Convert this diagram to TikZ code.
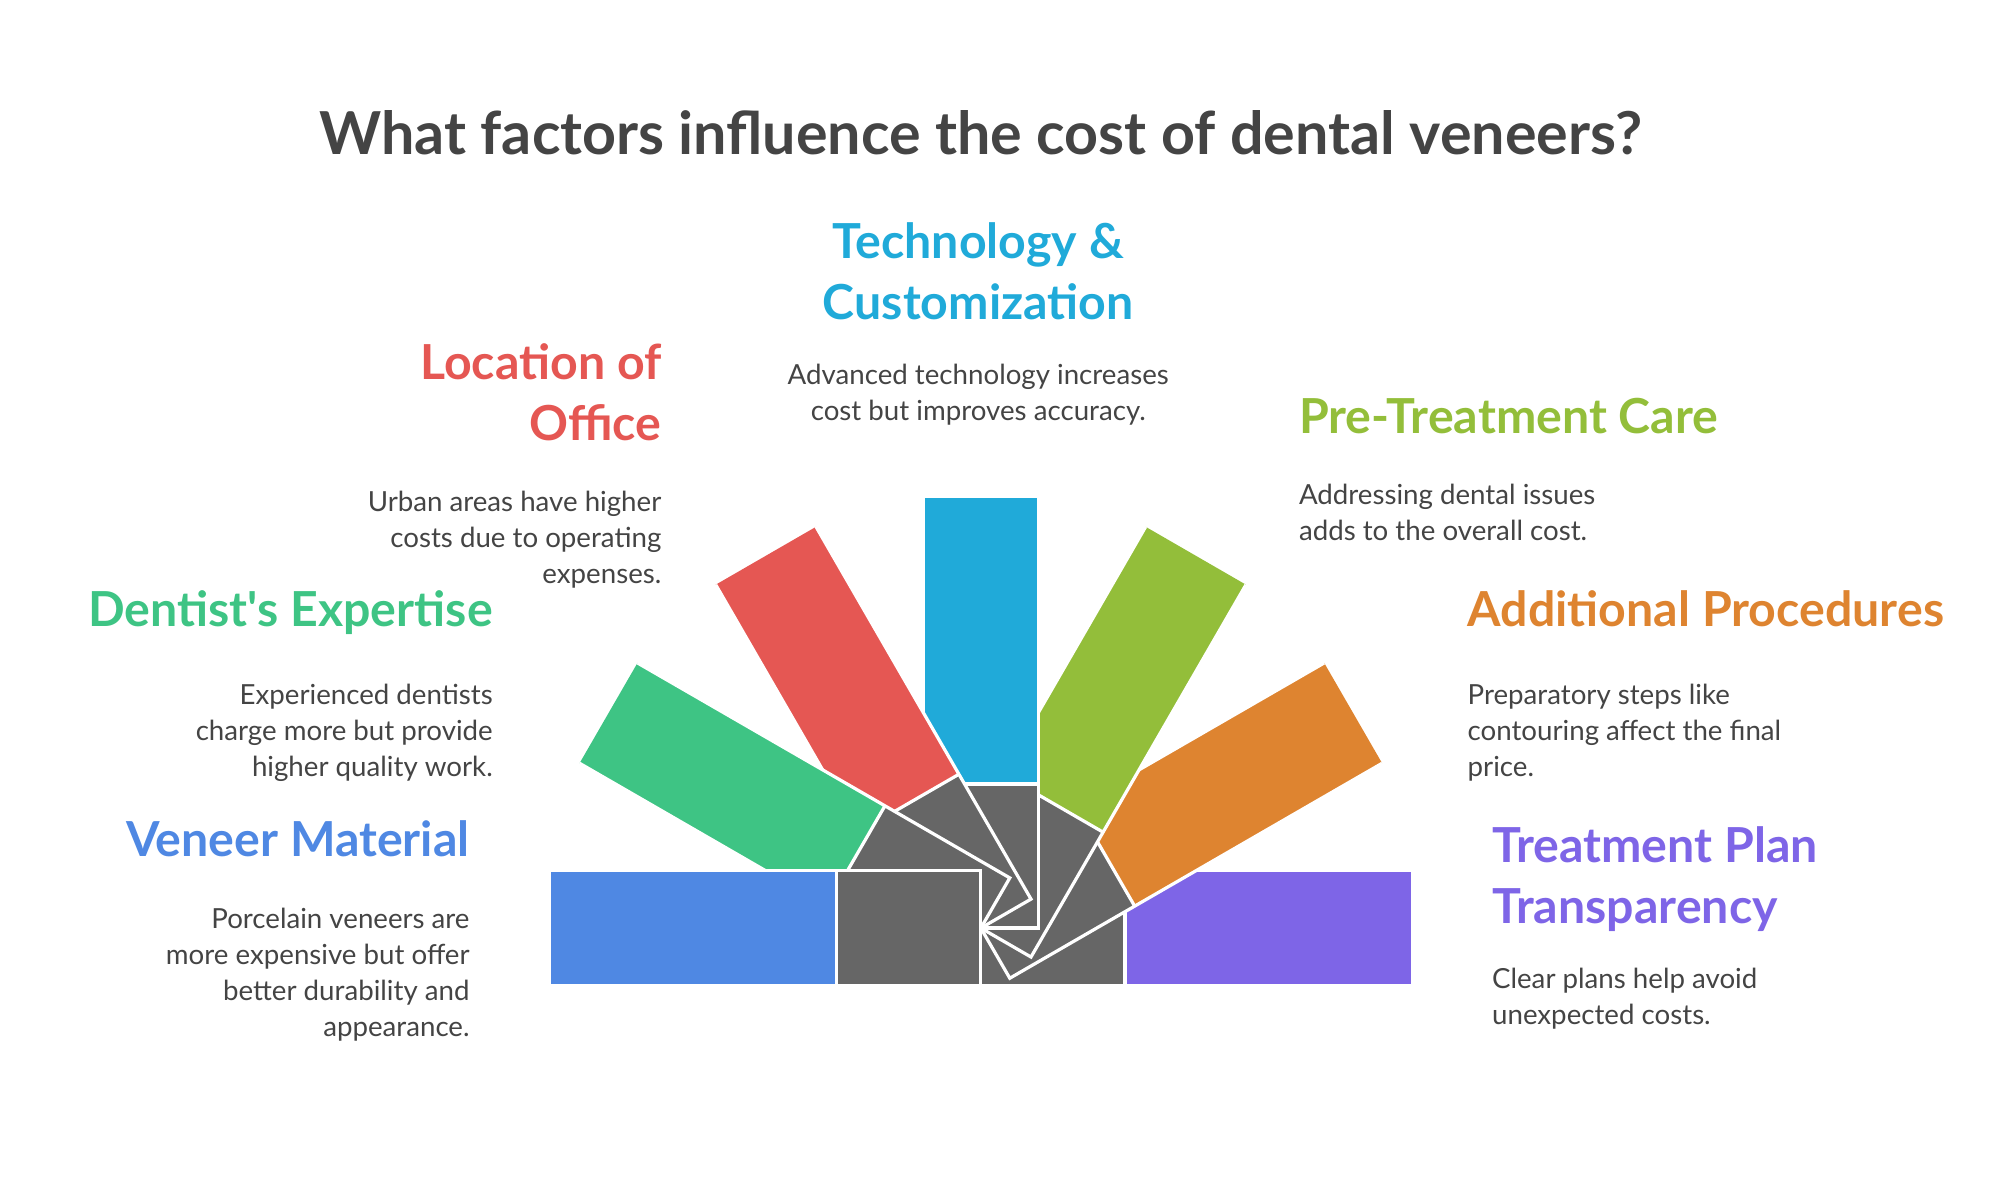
\documentclass[tikz,border=0pt]{standalone}
\usepackage{fontspec}
\setmainfont{Lato}
\usetikzlibrary{positioning}
\definecolor{vblue}{HTML}{4F88E3}
\definecolor{vgreen}{HTML}{3EC484}
\definecolor{vred}{HTML}{E55753}
\definecolor{vcyan}{HTML}{20AAD9}
\definecolor{volive}{HTML}{93BE3A}
\definecolor{vorange}{HTML}{DE8430}
\definecolor{vpurple}{HTML}{7E65E7}
\definecolor{vgray}{HTML}{666666}
\definecolor{vtext}{HTML}{444444}
\begin{document}
\begin{tikzpicture}[x=1pt,y=1pt,
  head/.style={font=\fontsize{37.5}{47}\selectfont\bfseries,inner sep=0pt},
  body/.style={font=\fontsize{21.5}{28}\selectfont,text=vtext,inner sep=0pt}]
  \useasboundingbox (0,0) rectangle (1560,-934);

  % petals, drawn from right to left
  \foreach \a/\c in {0/vpurple,30/vorange,60/volive,90/vcyan,120/vred,150/vgreen,180/vblue}{
    \begin{scope}[shift={(762,-721)},rotate=\a]
      \fill[\c] (112,-45) rectangle (334,45);
      \fill[vgray] (0,-45) rectangle (112,45);
      \draw[white,line width=2.5pt,line join=miter] (334,-45) -- (0,-45) -- (0,45) -- (334,45) (112,-45) -- (112,45);
    \end{scope}
  }

  \node[font=\fontsize{46}{54}\selectfont\bfseries,text=vtext] (title) at (762,-103) {What factors influence the cost of dental veneers?};

  \node[head,text=vcyan,align=center,anchor=north] (techh) at (760,-173) {Technology \&\\Customization};
  \node[body,align=center,anchor=north] (techt) at (760,-283) {Advanced technology increases\\cost but improves accuracy.};

  \node[head,text=vred,align=right,anchor=north east] (loch) at (514,-267) {Location of\\Office};
  \node[body,align=right,anchor=north east] (loct) at (514,-381) {Urban areas have higher\\costs due to operating\\expenses.};

  \node[head,text=volive,align=left,anchor=north west] (preh) at (1009,-309) {Pre-Treatment Care};
  \node[body,align=left,anchor=north west] (pret) at (1009,-376) {Addressing dental issues\\adds to the overall cost.};

  \node[head,text=vgreen,align=right,anchor=north east] (denth) at (383,-459) {Dentist\textquotesingle s Expertise};
  \node[body,align=right,anchor=north east] (dentt) at (383,-531) {Experienced dentists\\charge more but provide\\higher quality work.};

  \node[head,text=vorange,align=left,anchor=north west] (addh) at (1140,-459) {Additional Procedures};
  \node[body,align=left,anchor=north west] (addt) at (1140,-531) {Preparatory steps like\\contouring affect the final\\price.};

  \node[head,text=vblue,align=right,anchor=north east] (venh) at (365,-637) {Veneer Material};
  \node[body,align=right,anchor=north east] (vent) at (365,-705) {Porcelain veneers are\\more expensive but offer\\better durability and\\appearance.};

  \node[head,text=vpurple,align=left,anchor=north west] (planh) at (1159,-642) {Treatment Plan\\Transparency};
  \node[body,align=left,anchor=north west] (plant) at (1159,-752) {Clear plans help avoid\\unexpected costs.};
\end{tikzpicture}
\end{document}
